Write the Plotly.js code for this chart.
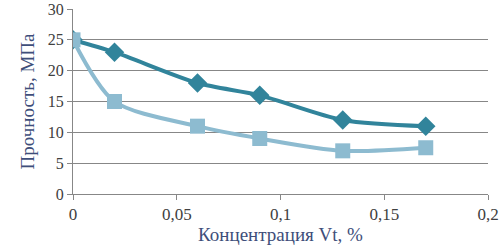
<!DOCTYPE html>
<html><head><meta charset="utf-8">
<script src="https://cdn.plot.ly/plotly-3.0.1.min.js"></script>
<style>body{margin:0;padding:0;background:#fff}#chart{width:499px;height:249px}
#chart text{font-family:'Liberation Serif',serif !important}</style>
</head><body><div id="chart"></div>
<script>
const xDark = [0, 0.02, 0.06, 0.09, 0.13, 0.17];
const yDark = [25, 23, 18, 16, 12, 11];
const xLight = [0, 0.02, 0.06, 0.09, 0.13, 0.17];
const yLight = [25, 15, 11, 9, 7, 7.5];
const xTickVals = [0, 0.05, 0.1, 0.15, 0.2];
const xTickText = ['0', '0,05', '0,1', '0,15', '0,2'];
const yTickVals = [0, 5, 10, 15, 20, 25, 30];
const xTitle = 'Концентрация Vt, %';
const yTitle = 'Прочность, МПа';

const fam = 'Liberation Serif';
const traces = [
  {x: xDark, y: yDark, mode: 'lines+markers', line: {shape: 'spline', smoothing: 0.8, color: '#31849B', width: 4},
   marker: {symbol: 'diamond', size: 15, color: '#31849B'}},
  {x: xLight, y: yLight, mode: 'lines+markers', line: {shape: 'spline', smoothing: 0.8, color: '#8DBBD0', width: 4},
   marker: {symbol: 'square', size: 15, color: '#8DBBD0'}}
];
const layout = {
  width: 499, height: 249, showlegend: false,
  margin: {l: 73, r: 11, t: 9, b: 55},
  paper_bgcolor: '#fff', plot_bgcolor: '#fff',
  separators: ', ',
  font: {family: fam, size: 17, color: '#404040'},
  xaxis: {range: [0, 0.2], tickvals: xTickVals, ticktext: xTickText, showgrid: false, zeroline: false,
    showline: true, linecolor: '#878787', linewidth: 1, ticks: 'outside', ticklen: 5, tickcolor: '#878787',
    automargin: false,
    tickfont: {family: fam, size: 17, color: '#404040'},
    title: {text: xTitle, font: {family: fam, size: 19, color: '#3E4E7A'}, standoff: 2}},
  yaxis: {range: [0, 30], tickmode: 'array', tickvals: yTickVals, ticktext: yTickVals.map(String), showgrid: true, gridcolor: '#878787', gridwidth: 1, zeroline: false,
    showline: true, linecolor: '#878787', linewidth: 1, ticks: 'outside', ticklen: 5, tickcolor: '#878787',
    automargin: false, ticklabeloverflow: 'allow',
    tickfont: {family: fam, size: 16, color: '#404040'},
    title: {text: yTitle, font: {family: fam, size: 19, color: '#3E4E7A'}, standoff: 8}}
};
Plotly.newPlot('chart', traces, layout, {displayModeBar: false, staticPlot: true});
</script></body></html>
